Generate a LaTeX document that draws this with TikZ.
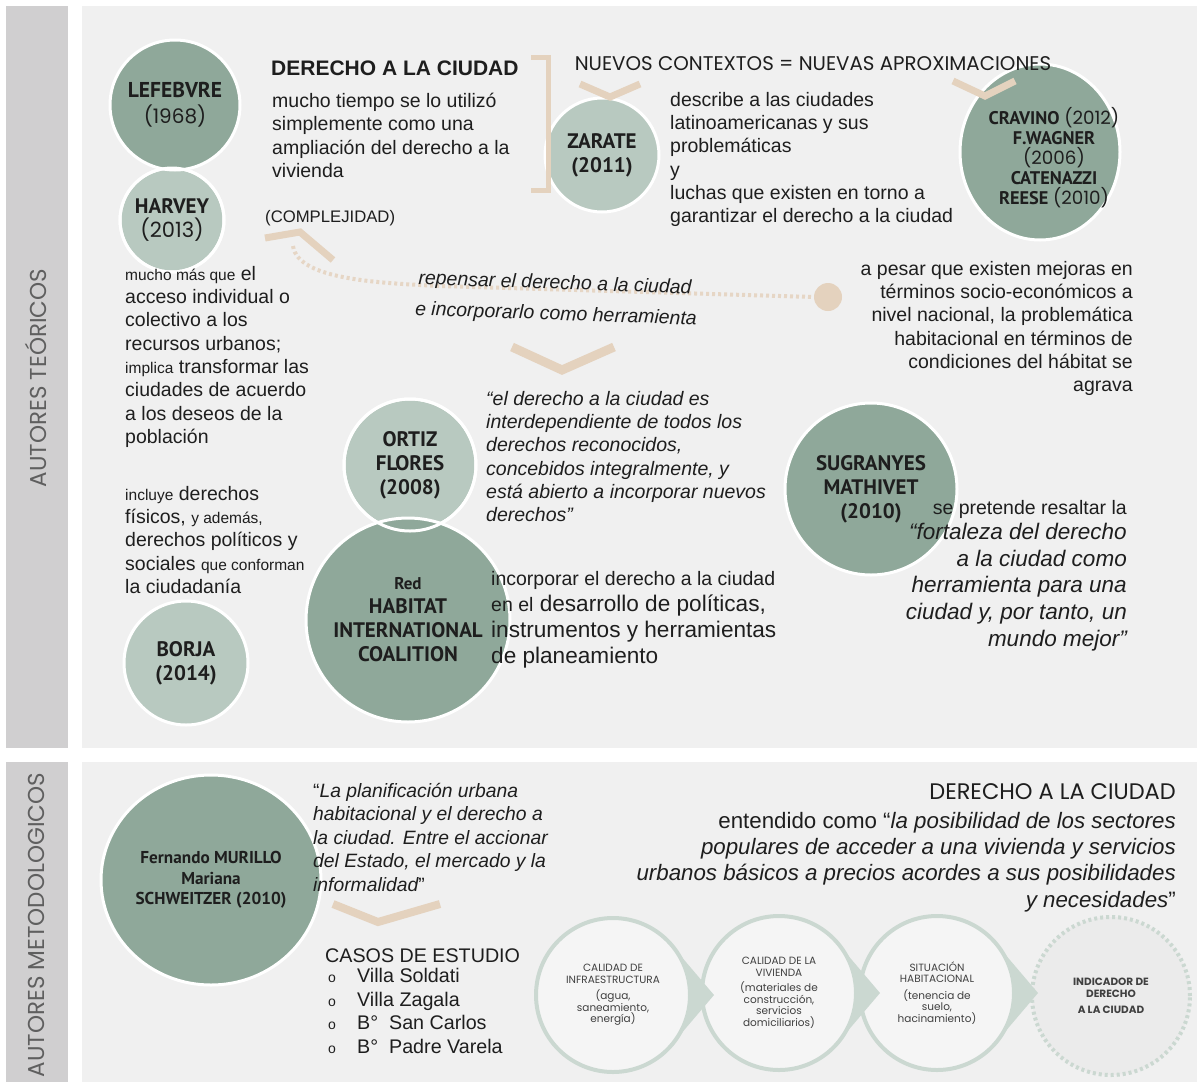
\documentclass[tikz,border=0pt]{standalone}
\usepackage{fontspec}
\setmainfont{Liberation Sans}
\newfontfamily\gothic{Poppins}
\newfontfamily\namefont{PT Sans}
\usetikzlibrary{shapes.geometric,calc}

\definecolor{sidebar}{RGB}{208,207,208}
\definecolor{panel}{RGB}{240,240,240}
\definecolor{darkgreen}{RGB}{143,168,154}
\definecolor{lightgreen}{RGB}{184,201,192}
\definecolor{tan}{RGB}{228,210,190}
\definecolor{tanlight}{RGB}{230,214,197}
\definecolor{procline}{RGB}{203,216,209}
\definecolor{procfill}{RGB}{245,245,245}
\definecolor{labelgray}{RGB}{95,95,95}
\definecolor{ink}{RGB}{30,30,30}

\newcommand\yr[1]{{\gothic\mdseries #1}}
\newcommand\chico[1]{{\fontsize{15.5}{23.3}\selectfont #1}}

\tikzset{
  darkcirc/.style={circle, fill=darkgreen, draw=white, line width=3, inner sep=0,
    align=center, text=ink, font=\namefont\bfseries\fontsize{21}{24}\selectfont},
  lightcirc/.style={darkcirc, fill=lightgreen},
  chevron/.style={draw=tan, line width=7},
  txt/.style={inner sep=0, align=left, text=ink, font=\fontsize{19.5}{23.3}\selectfont},
  cita/.style={txt, font=\itshape\fontsize{19.5}{23.3}\selectfont},
  gothictxt/.style={inner sep=0, text=ink, font=\gothic\fontsize{19.8}{24}\selectfont},
  procirc/.style={circle, draw=procline, line width=4, fill=procfill, minimum size=154,
    inner sep=0, align=center, text=black!75, font=\gothic\fontsize{10.5}{11.5}\selectfont},
  sidelabel/.style={rotate=90, text=labelgray, font=\gothic\fontsize{23}{26}\selectfont},
}

\begin{document}
\begin{tikzpicture}[x=1pt, y=-1pt]
    \useasboundingbox (0,0) rectangle (1200,1085);

    % Panels
    \fill[sidebar] (6,6) rectangle (68,748);
    \fill[panel] (82,6) rectangle (1197,748);
    \fill[sidebar] (6,762) rectangle (68,1082);
    \fill[panel] (82,762) rectangle (1197,1082);

    \node[sidelabel] (teoricos) at (36,378) {AUTORES TEÓRICOS};
    \node[sidelabel] (metodologicos) at (36,925) {AUTORES METODOLOGICOS};

    % Circles (top)
    \node[lightcirc, minimum size=104] (harvey) at (172,220) {HARVEY\\\yr{(2013)}};
    \node[darkcirc, minimum size=130, font=\namefont\bfseries\fontsize{21.5}{26}\selectfont]
        (lefebvre) at (175,105) {LEFEBVRE\\{\fontsize{20}{26}\selectfont\yr{(1968)}}};
    \draw[white, line width=3] (harvey.center) circle (52);

    \node[lightcirc, minimum size=114] (zarate) at (602,155) {ZARATE\\(2011)};
    \node[darkcirc, ellipse, minimum width=160, minimum height=176] (cravino) at (1040,152) {};
    \node[inner sep=0, align=center, text=ink, font=\namefont\bfseries\fontsize{18.3}{20}\selectfont]
        (cravinotxt) at (1054,158) {CRAVINO \yr{(2012)}\\F.WAGNER\\\yr{(2006)}\\CATENAZZI\\REESE \yr{(2010)}};

    \node[lightcirc, minimum size=132] (ortiz) at (410,465) {ORTIZ\\FLORES\\(2008)};
    \node[darkcirc, minimum size=204] (red) at (408,620) {{\fontsize{17}{20}\selectfont Red}\\HABITAT\\INTERNATIONAL\\COALITION};
    \draw[white, line width=3] (ortiz.center) circle (66);
    \node[lightcirc, minimum size=124] (borja) at (186,663) {BORJA\\(2014)};
    \node[darkcirc, minimum size=172] (sugranyes) at (871,489) {SUGRANYES\\MATHIVET\\(2010)};

    % Bracket and chevrons
    \draw[tan, line width=5] (531,57) -- (548,57) -- (548,190) -- (531,190);
    \draw[chevron] (580,84) -- (610,97) -- (640,84);
    \draw[chevron] (953,81) -- (985,96) -- (1015,81);
    \draw[chevron] (265,238) -- (300,232) -- (333,260);
    \draw[chevron, line width=9] (512,347) -- (562,370) -- (614,347);

    % Dotted line
    \node[circle, fill=tan, minimum size=28, inner sep=0] (punto) at (828,297) {};
    \coordinate (inicio) at (293,246);
    \draw[tanlight, line width=4, dash pattern=on 3pt off 3pt]
        (inicio) .. controls (298,280) and (380,283) .. (440,286) -- (punto.west);

    % Texts (top)
    \node[anchor=west, inner sep=0, text=ink, font=\bfseries\fontsize{21}{25}\selectfont] (titulo) at (271,68) {DERECHO A LA CIUDAD};
    \node[txt, anchor=north west] (lefebvretxt) at (272,93) {mucho tiempo se lo utilizó\\simplemente como una\\ampliación del derecho a la\\vivienda};
    \node[gothictxt] (nuevos) at (813,64) {NUEVOS CONTEXTOS = NUEVAS APROXIMACIONES};
    \node[txt, anchor=north west] (zaratetxt) at (670,92) {describe a las ciudades\\latinoamericanas y sus\\problemáticas\\y\\luchas que existen en torno a\\garantizar el derecho a la ciudad};
    \node[anchor=west, inner sep=0, text=ink, font=\fontsize{16.7}{20}\selectfont] (complejidad) at (265,218) {(COMPLEJIDAD)};
    \node[txt, anchor=north west] (harveytxt) at (125,266) {\chico{mucho más que} el\\acceso individual o\\colectivo a los\\recursos urbanos;\\\chico{implica} transformar las\\ciudades de acuerdo\\a los deseos de la\\población};
    \node[cita, rotate=-2] (repensar) at (555,284) {repensar el derecho a la ciudad};
    \node[cita, rotate=-2] (incorporarlo) at (556,315) {e incorporarlo como herramienta};
    \node[txt, align=right, anchor=north east] (pesartxt) at (1133,261) {a pesar que existen mejoras en\\términos socio-económicos a\\nivel nacional, la problemática\\habitacional en términos de\\condiciones del hábitat se\\agrava};
    \node[cita, anchor=north west] (ortiztxt) at (486,391) {“el derecho a la ciudad es\\interdependiente de todos los\\derechos reconocidos,\\concebidos integralmente, y\\está abierto a incorporar nuevos\\derechos"};
    \node[txt, anchor=north west] (borjatxt) at (125,486) {\chico{incluye} derechos\\físicos, \chico{y además,}\\derechos políticos y\\sociales \chico{que conforman}\\la ciudadanía};
    \node[txt, anchor=north west, font=\fontsize{22.6}{26}\selectfont] (redtxt) at (491,571) {{\fontsize{19.5}{26}\selectfont incorporar el derecho a la ciudad}\\{\fontsize{19.5}{26}\selectfont en el} desarrollo de políticas,\\instrumentos y herramientas\\de planeamiento};
    \node[txt, anchor=north east] (sugrtxt) at (1127,500) {se pretende resaltar la};
    \node[cita, align=right, anchor=north east, font=\itshape\fontsize{22.5}{26.7}\selectfont] (sugrcita) at (1127,523) {“fortaleza del derecho\\a la ciudad como\\herramienta para una\\ciudad y, por tanto, un\\mundo mejor”};

    % Bottom
    \node[darkcirc, ellipse, minimum width=220, minimum height=210, font=\namefont\bfseries\fontsize{17.2}{20.5}\selectfont]
        (murillo) at (211,880) {Fernando MURILLO\\Mariana\\SCHWEITZER (2010)};
    \node[cita, anchor=north west, font=\itshape\fontsize{19.3}{23.5}\selectfont] (murillotxt) at (313,783) {{\upshape“}La planificación urbana\\habitacional y el derecho a\\la ciudad. Entre el accionar\\del Estado, el mercado y la\\informalidad{\upshape”}};
    \draw[chevron, line width=8] (333,904) -- (378,922) -- (440,904);
    \node[anchor=west, inner sep=0, text=ink, font=\fontsize{19.7}{22}\selectfont] (casos) at (325,956) {CASOS DE ESTUDIO};
    \node[txt, anchor=north west, font=\fontsize{19.7}{23.7}\selectfont] (casoslista) at (328,968)
        {\makebox[29pt][l]{\fontsize{14}{20}\selectfont o}Villa Soldati\\
         \makebox[29pt][l]{\fontsize{14}{20}\selectfont o}Villa Zagala\\
         \makebox[29pt][l]{\fontsize{14}{20}\selectfont o}B°\ \ San Carlos\\
         \makebox[29pt][l]{\fontsize{14}{20}\selectfont o}B°\ \ Padre Varela};

    \node[gothictxt, anchor=east, font=\gothic\fontsize{22.5}{26}\selectfont] (derecho2) at (1176,792) {DERECHO A LA CIUDAD};
    \node[txt, align=right, anchor=north east, font=\fontsize{22.3}{26.3}\selectfont] (entendido) at (1176,812)
        {entendido como “\textit{la posibilidad de los sectores}\\\textit{populares de acceder a una vivienda y servicios}\\\textit{urbanos básicos a precios acordes a sus posibilidades}\\\textit{y necesidades}”};

    % Process circles
    \node[procirc] (c1) at (613,995) {CALIDAD DE\\INFRAESTRUCTURA\\[5pt](agua,\\saneamiento,\\energía)};
    \node[procirc] (c2) at (779,993) {CALIDAD DE LA\\VIVIENDA\\[4pt](materiales de\\construcción,\\servicios\\domiciliarios)};
    \node[procirc] (c3) at (937,993) {SITUACIÓN\\HABITACIONAL\\[5pt](tenencia de\\suelo,\\hacinamiento)};
    \node[procirc, dashed, fill=black!8, minimum size=158, font=\gothic\bfseries\fontsize{10.5}{12}\selectfont]
        (c4) at (1111,996) {INDICADOR DE\\DERECHO\\[4pt]A LA CIUDAD};
    \foreach \c in {c1,c2,c3}
        \fill[procline] ($(\c)+(38:77)$) -- ($(\c)+(101,0)$) -- ($(\c)+(-38:77)$)
            arc[start angle=-38, end angle=38, radius=77];
\end{tikzpicture}
\end{document}
